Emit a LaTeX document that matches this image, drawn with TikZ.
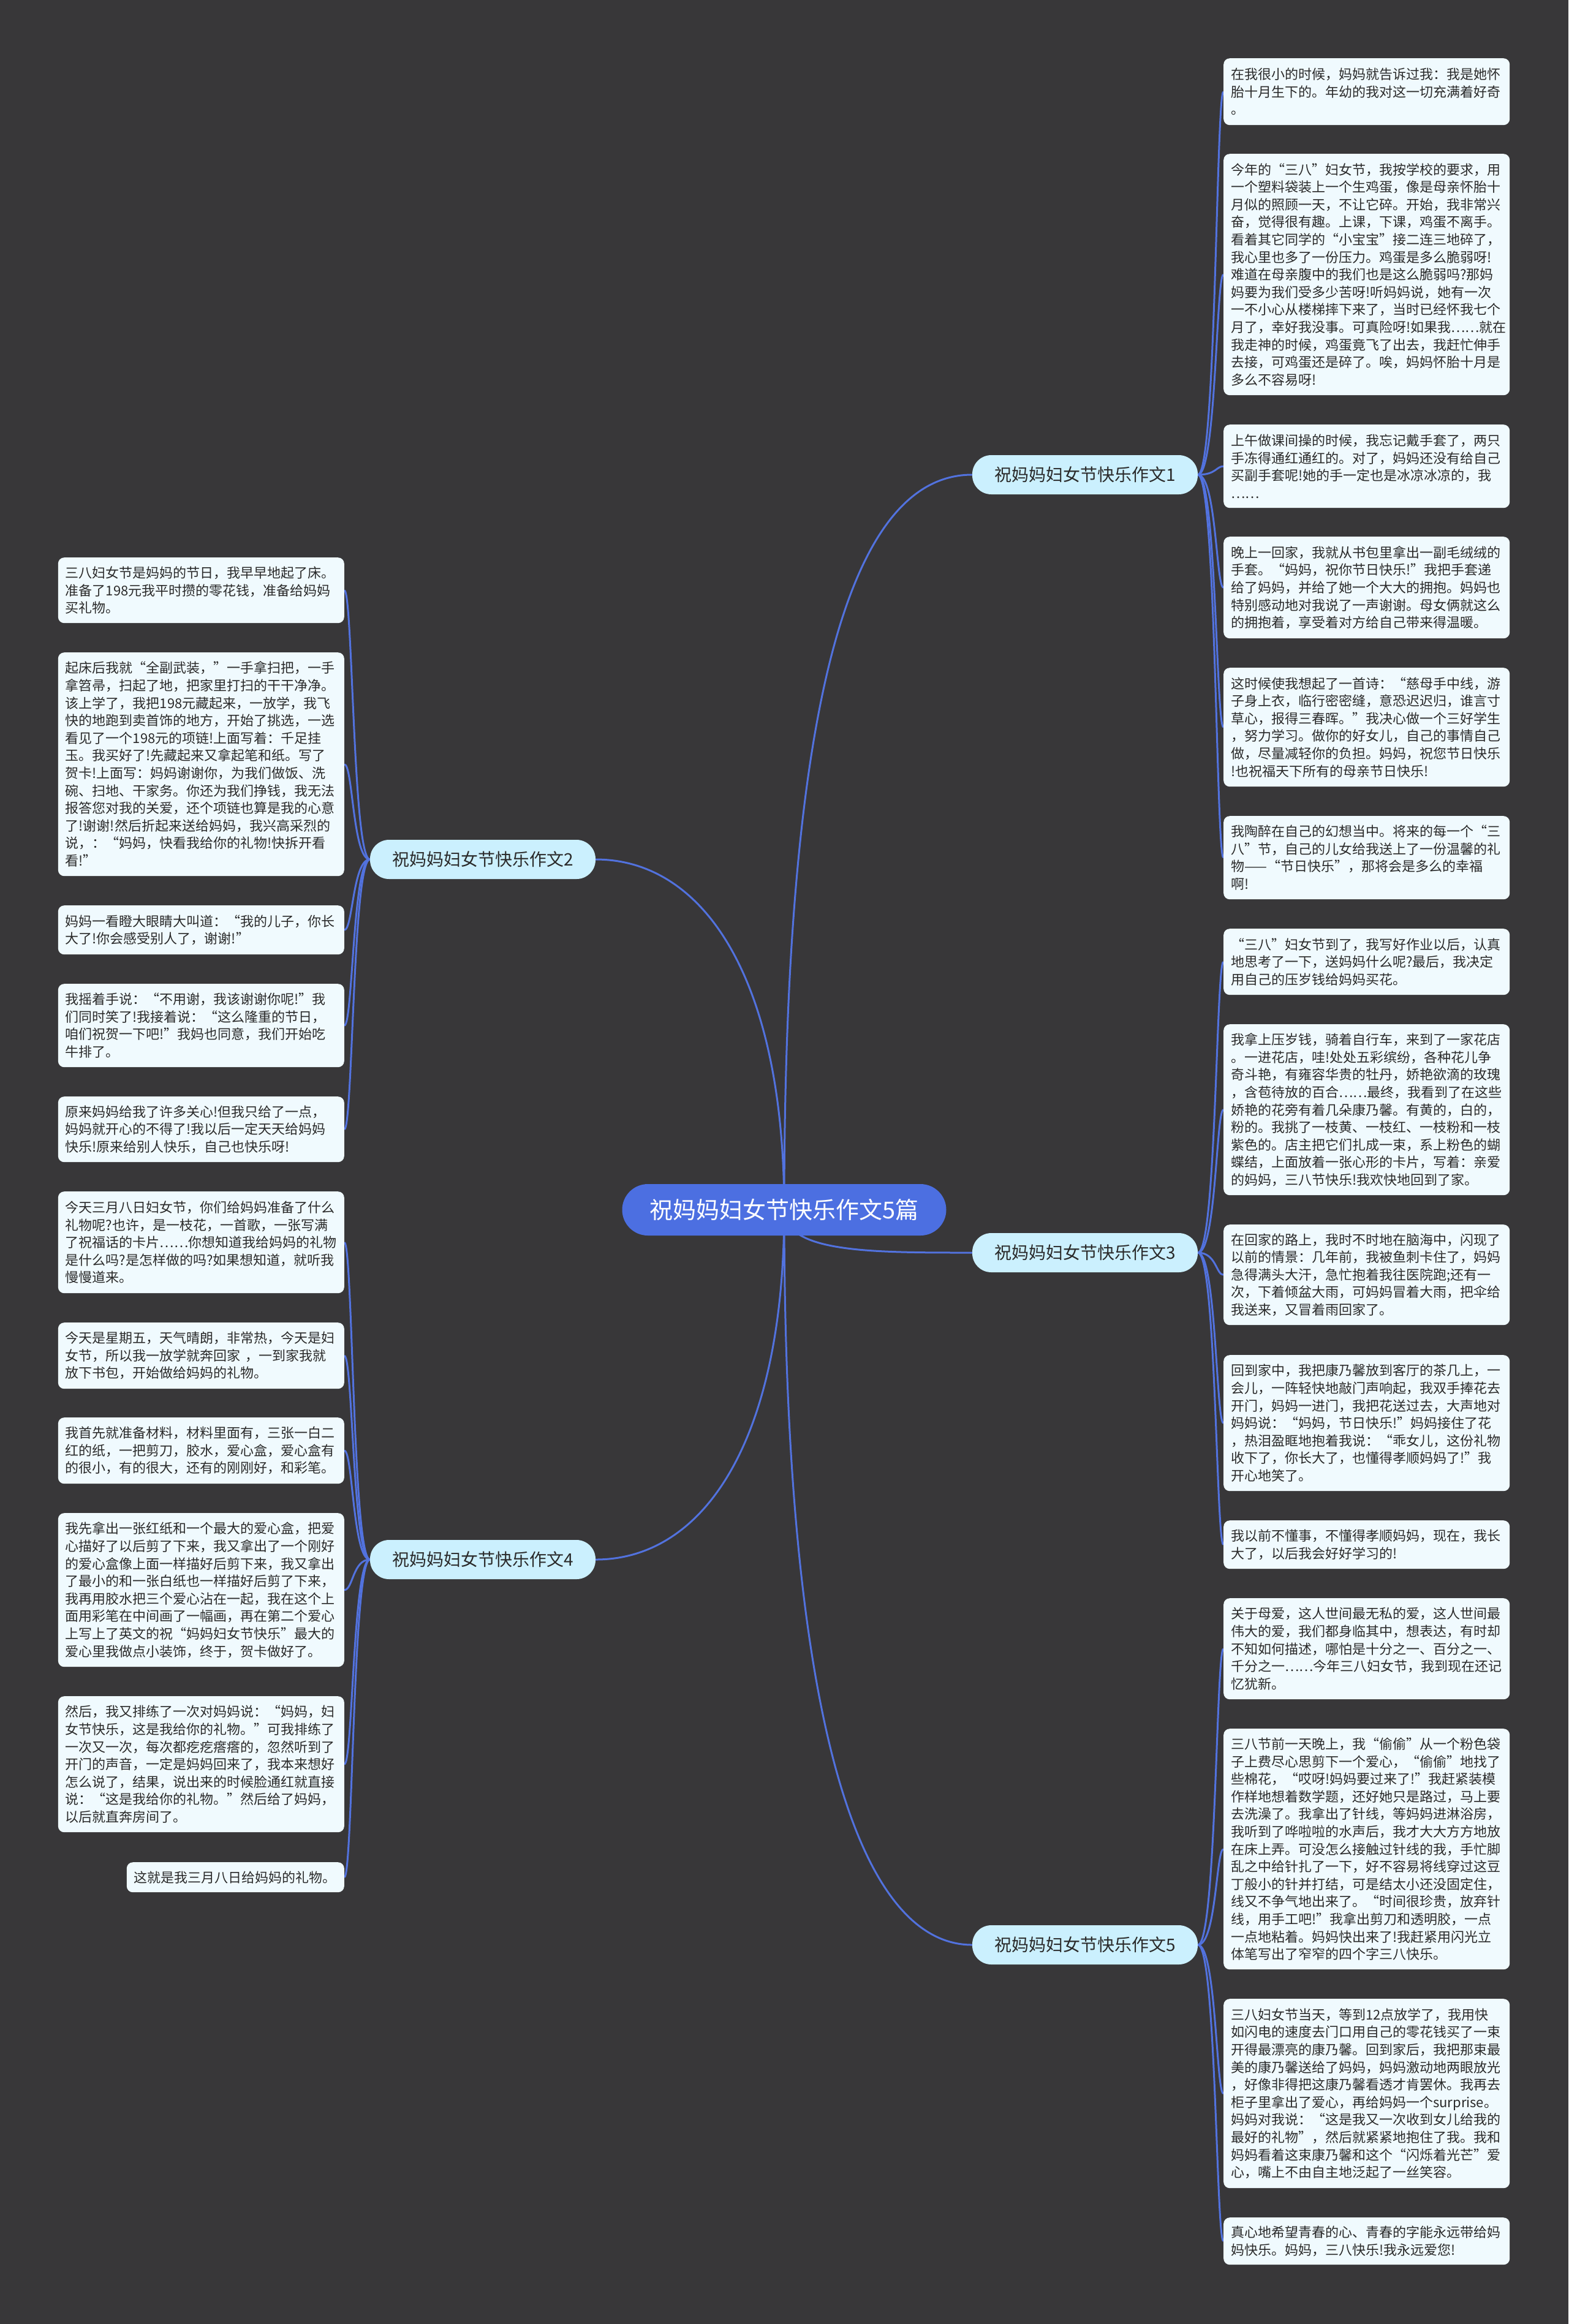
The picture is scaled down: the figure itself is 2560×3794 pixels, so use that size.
\documentclass[tikz,border=0pt]{standalone}
\usepackage{fontspec}
\newfontfamily\cjk{Noto Sans CJK SC}
\pgfdeclarelayer{back}
\pgfdeclarelayer{bg}
\pgfsetlayers{back,bg,main}
\definecolor{bgc}{HTML}{383739}
\definecolor{linec}{HTML}{5272DE}
\definecolor{boxc}{HTML}{F0FAFE}
\definecolor{brc}{HTML}{CBF0FE}
\definecolor{cnc}{HTML}{4C6FE1}
\definecolor{txtc}{HTML}{2A2A2A}
\begin{document}
\begin{tikzpicture}[x=1pt,y=-1pt,
  txtbox/.style={fill=boxc, rounded corners=10pt, text width=443pt, inner xsep=12pt, inner ysep=0pt, align=left, text=txtc, font=\cjk\fontsize{22}{28.6}\selectfont},
  rbox/.style={txtbox, anchor=north west},
  lbox/.style={txtbox, anchor=north east},
  branch/.style={fill=brc, rounded corners=31pt, minimum width=368pt, minimum height=64pt, inner sep=0pt, text=txtc, font=\cjk\fontsize{28}{34}\selectfont},
  central/.style={fill=cnc, rounded corners=42pt, minimum width=529pt, minimum height=84pt, inner sep=0pt, text=white, font=\cjk\fontsize{38}{46}\selectfont},
  conn/.style={draw=linec, line width=3pt}]
\useasboundingbox (0,0) rectangle (2560,3794);
\begin{pgfonlayer}{back}
\fill[bgc] (0,0) rectangle (2560,3794);
\end{pgfonlayer}

% central and branches
\node[central] (cn) at (1280,1975) {祝妈妈妇女节快乐作文5篇};
\node[branch] (b1) at (1771,775) {祝妈妈妇女节快乐作文1};
\node[branch] (b2) at (788,1403) {祝妈妈妇女节快乐作文2};
\node[branch] (b3) at (1771,2045) {祝妈妈妇女节快乐作文3};
\node[branch] (b4) at (788,2546) {祝妈妈妇女节快乐作文4};
\node[branch] (b5) at (1771,3175) {祝妈妈妇女节快乐作文5};

% section 1
\node[rbox, minimum height=109pt] (r1a) at (1997,95) {在我很小的时候，妈妈就告诉过我：我是她怀\\胎十月生下的。年幼的我对这一切充满着好奇\\。};
\node[rbox, minimum height=394pt] (r1b) at (1997,251) {今年的“三八”妇女节，我按学校的要求，用\\一个塑料袋装上一个生鸡蛋，像是母亲怀胎十\\月似的照顾一天，不让它碎。开始，我非常兴\\奋，觉得很有趣。上课，下课，鸡蛋不离手。\\看着其它同学的“小宝宝”接二连三地碎了，\\我心里也多了一份压力。鸡蛋是多么脆弱呀!\\难道在母亲腹中的我们也是这么脆弱吗?那妈\\妈要为我们受多少苦呀!听妈妈说，她有一次\\一不小心从楼梯摔下来了，当时已经怀我七个\\月了，幸好我没事。可真险呀!如果我……就在\\我走神的时候，鸡蛋竟飞了出去，我赶忙伸手\\去接，可鸡蛋还是碎了。唉，妈妈怀胎十月是\\多么不容易呀!};
\node[rbox, minimum height=136pt] (r1c) at (1997,693) {上午做课间操的时候，我忘记戴手套了，两只\\手冻得通红通红的。对了，妈妈还没有给自己\\买副手套呢!她的手一定也是冰凉冰凉的，我\\……};
\node[rbox, minimum height=166pt] (r1d) at (1997,876) {晚上一回家，我就从书包里拿出一副毛绒绒的\\手套。“妈妈，祝你节日快乐!”我把手套递\\给了妈妈，并给了她一个大大的拥抱。妈妈也\\特别感动地对我说了一声谢谢。母女俩就这么\\的拥抱着，享受着对方给自己带来得温暖。};
\node[rbox, minimum height=194pt] (r1e) at (1997,1090) {这时候使我想起了一首诗：“慈母手中线，游\\子身上衣，临行密密缝，意恐迟迟归，谁言寸\\草心，报得三春晖。”我决心做一个三好学生\\，努力学习。做你的好女儿，自己的事情自己\\做，尽量减轻你的负担。妈妈，祝您节日快乐\\!也祝福天下所有的母亲节日快乐!};
\node[rbox, minimum height=136pt] (r1f) at (1997,1332) {我陶醉在自己的幻想当中。将来的每一个“三\\八”节，自己的儿女给我送上了一份温馨的礼\\物——“节日快乐”，那将会是多么的幸福\\啊!};

% section 2
\node[lbox, minimum height=107pt] (l2a) at (562,910) {三八妇女节是妈妈的节日，我早早地起了床。\\准备了198元我平时攒的零花钱，准备给妈妈\\买礼物。};
\node[lbox, minimum height=365pt] (l2b) at (562,1065) {起床后我就“全副武装，”一手拿扫把，一手\\拿笤帚，扫起了地，把家里打扫的干干净净。\\该上学了，我把198元藏起来，一放学，我飞\\快的地跑到卖首饰的地方，开始了挑选，一选\\看见了一个198元的项链!上面写着：千足挂\\玉。我买好了!先藏起来又拿起笔和纸。写了\\贺卡!上面写：妈妈谢谢你，为我们做饭、洗\\碗、扫地、干家务。你还为我们挣钱，我无法\\报答您对我的关爱，还个项链也算是我的心意\\了!谢谢!然后折起来送给妈妈，我兴高采烈的\\说，：“妈妈，快看我给你的礼物!快拆开看\\看!”};
\node[lbox, minimum height=80pt] (l2c) at (562,1478) {妈妈一看瞪大眼睛大叫道：“我的儿子，你长\\大了!你会感受别人了，谢谢!”};
\node[lbox, minimum height=136pt] (l2d) at (562,1606) {我摇着手说：“不用谢，我该谢谢你呢!”我\\们同时笑了!我接着说：“这么隆重的节日，\\咱们祝贺一下吧!”我妈也同意，我们开始吃\\牛排了。};
\node[lbox, minimum height=107pt] (l2e) at (562,1790) {原来妈妈给我了许多关心!但我只给了一点，\\妈妈就开心的不得了!我以后一定天天给妈妈\\快乐!原来给别人快乐，自己也快乐呀!};

% section 3
\node[rbox, minimum height=108pt] (r3a) at (1997,1516) {“三八”妇女节到了，我写好作业以后，认真\\地思考了一下，送妈妈什么呢?最后，我决定\\用自己的压岁钱给妈妈买花。};
\node[rbox, minimum height=279pt] (r3b) at (1997,1672) {我拿上压岁钱，骑着自行车，来到了一家花店\\。一进花店，哇!处处五彩缤纷，各种花儿争\\奇斗艳，有雍容华贵的牡丹，娇艳欲滴的玫瑰\\，含苞待放的百合……最终，我看到了在这些\\娇艳的花旁有着几朵康乃馨。有黄的，白的，\\粉的。我挑了一枝黄、一枝红、一枝粉和一枝\\紫色的。店主把它们扎成一束，系上粉色的蝴\\蝶结，上面放着一张心形的卡片，写着：亲爱\\的妈妈，三八节快乐!我欢快地回到了家。};
\node[rbox, minimum height=164pt] (r3c) at (1997,1999) {在回家的路上，我时不时地在脑海中，闪现了\\以前的情景：几年前，我被鱼刺卡住了，妈妈\\急得满头大汗，急忙抱着我往医院跑;还有一\\次，下着倾盆大雨，可妈妈冒着大雨，把伞给\\我送来，又冒着雨回家了。};
\node[rbox, minimum height=222pt] (r3d) at (1997,2212) {回到家中，我把康乃馨放到客厅的茶几上，一\\会儿，一阵轻快地敲门声响起，我双手捧花去\\开门，妈妈一进门，我把花送过去，大声地对\\妈妈说：“妈妈，节日快乐!”妈妈接住了花\\，热泪盈眶地抱着我说：“乖女儿，这份礼物\\收下了，你长大了，也懂得孝顺妈妈了!”我\\开心地笑了。};
\node[rbox, minimum height=79pt] (r3e) at (1997,2482) {我以前不懂事，不懂得孝顺妈妈，现在，我长\\大了，以后我会好好学习的!};

% section 4
\node[lbox, minimum height=166pt] (l4a) at (562,1945) {今天三月八日妇女节，你们给妈妈准备了什么\\礼物呢?也许，是一枝花，一首歌，一张写满\\了祝福话的卡片……你想知道我给妈妈的礼物\\是什么吗?是怎样做的吗?如果想知道，就听我\\慢慢道来。};
\node[lbox, minimum height=108pt] (l4b) at (562,2159) {今天是星期五，天气晴朗，非常热，今天是妇\\女节，所以我一放学就奔回家 ，一到家我就\\放下书包，开始做给妈妈的礼物。};
\node[lbox, minimum height=108pt] (l4c) at (562,2314) {我首先就准备材料，材料里面有，三张一白二\\红的纸，一把剪刀，胶水，爱心盒，爱心盒有\\的很小，有的很大，还有的刚刚好，和彩笔。};
\node[lbox, minimum height=251pt] (l4d) at (562,2470) {我先拿出一张红纸和一个最大的爱心盒，把爱\\心描好了以后剪了下来，我又拿出了一个刚好\\的爱心盒像上面一样描好后剪下来，我又拿出\\了最小的和一张白纸也一样描好后剪了下来，\\我再用胶水把三个爱心沾在一起，我在这个上\\面用彩笔在中间画了一幅画，再在第二个爱心\\上写上了英文的祝“妈妈妇女节快乐”最大的\\爱心里我做点小装饰，终于，贺卡做好了。};
\node[lbox, minimum height=222pt] (l4e) at (562,2769) {然后，我又排练了一次对妈妈说：“妈妈，妇\\女节快乐，这是我给你的礼物。”可我排练了\\一次又一次，每次都疙疙瘩瘩的，忽然听到了\\开门的声音，一定是妈妈回来了，我本来想好\\怎么说了，结果，说出来的时候脸通红就直接\\说：“这是我给你的礼物。”然后给了妈妈，\\以后就直奔房间了。};
\node[lbox, text width=331pt, minimum height=49pt] (l4f) at (562,3040) {这就是我三月八日给妈妈的礼物。};

% section 5
\node[rbox, minimum height=165pt] (r5a) at (1997,2609) {关于母爱，这人世间最无私的爱，这人世间最\\伟大的爱，我们都身临其中，想表达，有时却\\不知如何描述，哪怕是十分之一、百分之一、\\千分之一……今年三八妇女节，我到现在还记\\忆犹新。};
\node[rbox, minimum height=393pt] (r5b) at (1997,2822) {三八节前一天晚上，我“偷偷”从一个粉色袋\\子上费尽心思剪下一个爱心，“偷偷”地找了\\些棉花，“哎呀!妈妈要过来了!”我赶紧装模\\作样地想着数学题，还好她只是路过，马上要\\去洗澡了。我拿出了针线，等妈妈进淋浴房，\\我听到了哗啦啦的水声后，我才大大方方地放\\在床上弄。可没怎么接触过针线的我，手忙脚\\乱之中给针扎了一下，好不容易将线穿过这豆\\丁般小的针并打结，可是结太小还没固定住，\\线又不争气地出来了。“时间很珍贵，放弃针\\线，用手工吧!”我拿出剪刀和透明胶，一点\\一点地粘着。妈妈快出来了!我赶紧用闪光立\\体笔写出了窄窄的四个字三八快乐。};
\node[rbox, minimum height=309pt] (r5c) at (1997,3263) {三八妇女节当天，等到12点放学了，我用快\\如闪电的速度去门口用自己的零花钱买了一束\\开得最漂亮的康乃馨。回到家后，我把那束最\\美的康乃馨送给了妈妈，妈妈激动地两眼放光\\，好像非得把这康乃馨看透才肯罢休。我再去\\柜子里拿出了爱心，再给妈妈一个surprise。\\妈妈对我说：“这是我又一次收到女儿给我的\\最好的礼物”，然后就紧紧地抱住了我。我和\\妈妈看着这束康乃馨和这个“闪烁着光芒”爱\\心，嘴上不由自主地泛起了一丝笑容。};
\node[rbox, minimum height=77pt] (r5d) at (1997,3620) {真心地希望青春的心、青春的字能永远带给妈\\妈快乐。妈妈，三八快乐!我永远爱您!};

\begin{pgfonlayer}{bg}
% main connectors
\draw[conn] (cn.center) .. controls (1280,1100) and (1400,775) .. (b1.west);
\draw[conn] (cn.center) .. controls (1280,1600) and (1150,1403) .. (b2.east);
\draw[conn] (cn.center) .. controls (1280,2045) and (1420,2045) .. (b3.west);
\draw[conn] (cn.center) .. controls (1280,2350) and (1150,2546) .. (b4.east);
\draw[conn] (cn.center) .. controls (1280,2800) and (1400,3175) .. (b5.west);
% right children
\foreach \c in {r1a,r1b,r1c,r1d,r1e,r1f}{\draw[conn] (b1.east) .. controls +(30,0) and +(-12,0) .. (\c.west);}
\foreach \c in {r3a,r3b,r3c,r3d,r3e}{\draw[conn] (b3.east) .. controls +(30,0) and +(-12,0) .. (\c.west);}
\foreach \c in {r5a,r5b,r5c,r5d}{\draw[conn] (b5.east) .. controls +(30,0) and +(-12,0) .. (\c.west);}
% left children
\foreach \c in {l2a,l2b,l2c,l2d,l2e}{\draw[conn] (b2.west) .. controls +(-28,0) and +(14,0) .. (\c.east);}
\foreach \c in {l4a,l4b,l4c,l4d,l4e,l4f}{\draw[conn] (b4.west) .. controls +(-28,0) and +(14,0) .. (\c.east);}
\end{pgfonlayer}
\end{tikzpicture}
\end{document}
